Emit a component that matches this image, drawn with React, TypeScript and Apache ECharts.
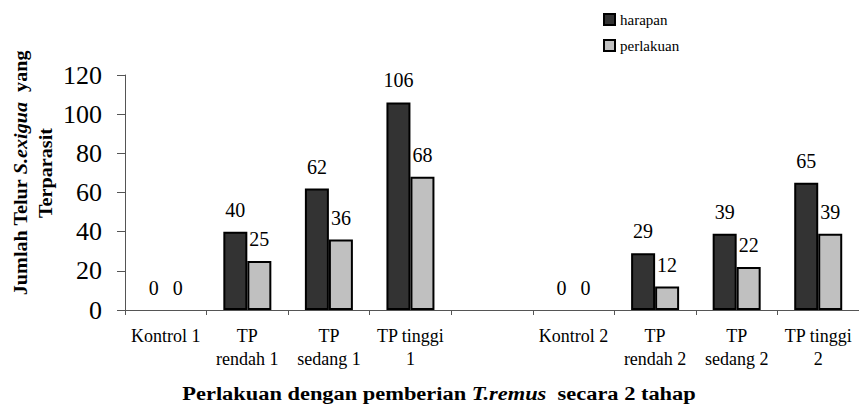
import React, { useEffect, useRef } from "react";
import * as echarts from "echarts";

const categories = [
  "Kontrol 1",
  "TP\nrendah 1",
  "TP\nsedang 1",
  "TP tinggi\n1",
  "",
  "Kontrol 2",
  "TP\nrendah 2",
  "TP\nsedang 2",
  "TP tinggi\n2",
];
const harapan: (number | string)[] = [0, 40, 62, 106, "-", 0, 29, 39, 65];
const perlakuan: (number | string)[] = [0, 25, 36, 68, "-", 0, 12, 22, 39];
const yTicks = { min: 0, max: 120, interval: 20 };

const FONT = "Liberation Serif";

function toItems(arr: (number | string)[]) {
  return arr.map((v) =>
    v === 0
      ? { value: 0, itemStyle: { borderWidth: 0, color: "rgba(0,0,0,0)", borderColor: "rgba(0,0,0,0)" } }
      : v
  );
}

const rs = (size: number, extra: any = {}) => ({
  fontSize: size,
  fontFamily: FONT,
  color: "#000",
  ...extra,
});

export default function App() {
  const ref = useRef<HTMLDivElement>(null);
  useEffect(() => {
    if (!ref.current) return;
    const chart = echarts.init(ref.current, undefined, { renderer: "svg" });
    const labelStyle = {
      show: true,
      position: "top" as const,
      distance: 12,
      fontSize: 20,
      color: "#000",
      fontFamily: FONT,
      formatter: "{a|{c}}",
      rich: { a: rs(20) },
    };
    chart.setOption({
      animation: false,
      backgroundColor: "#fff",
      textStyle: { fontFamily: FONT },
      grid: { left: 125, top: 75, width: 735, height: 235 },
      legend: {
        orient: "vertical",
        left: 603,
        top: 12,
        padding: 0,
        itemWidth: 11,
        itemHeight: 11,
        itemGap: 11,
        icon: "rect",
        itemStyle: { borderColor: "#000", borderWidth: 2 },
        formatter: (name: string) => `{a|${name}}`,
        textStyle: {
          fontSize: 15,
          lineHeight: 14,
          color: "#000",
          fontFamily: FONT,
          rich: { a: rs(15, { lineHeight: 14 }) },
        },
        data: ["harapan", "perlakuan"],
      },
      xAxis: {
        type: "category",
        data: categories,
        axisLine: { lineStyle: { color: "#555", width: 1 } },
        axisTick: { show: true, length: 5, interval: 0, lineStyle: { color: "#555" } },
        axisLabel: {
          interval: 0,
          fontSize: 18,
          lineHeight: 23,
          margin: 14,
          color: "#000",
          fontFamily: FONT,
          formatter: (v: string) =>
            v
              .split("\n")
              .map((l) => (l ? `{a|${l}}` : ""))
              .join("\n"),
          rich: { a: rs(18, { lineHeight: 23 }) },
        },
      },
      yAxis: {
        type: "value",
        min: yTicks.min,
        max: yTicks.max,
        interval: yTicks.interval,
        splitLine: { show: false },
        axisLine: { show: true, lineStyle: { color: "#555", width: 1 } },
        axisTick: { show: true, length: 8, lineStyle: { color: "#555" } },
        axisLabel: {
          fontSize: 26,
          margin: 23,
          color: "#000",
          fontFamily: FONT,
          formatter: (v: number) => `{a|${v}}`,
          rich: { a: rs(26) },
        },
      },
      series: [
        {
          name: "harapan",
          type: "bar",
          data: toItems(harapan),
          barWidth: 24,
          barGap: "0%",
          itemStyle: { color: "#333333", borderColor: "#000", borderWidth: 2 },
          label: labelStyle,
        },
        {
          name: "perlakuan",
          type: "bar",
          data: toItems(perlakuan),
          barWidth: 24,
          barGap: "0%",
          itemStyle: { color: "#c0c0c0", borderColor: "#000", borderWidth: 2 },
          label: labelStyle,
        },
      ],
      graphic: [
        {
          type: "text",
          x: 33,
          y: 173,
          rotation: Math.PI / 2,
          scaleX: 1.12,
          style: {
            text: "{b|Jumlah Telur }{bi|S.exigua}{b|  yang}\n{b|Terparasit}",
            align: "center",
            verticalAlign: "middle",
            fill: "#000",
            rich: {
              b: { fontSize: 18, fontWeight: "bold", fontFamily: FONT, lineHeight: 25, fill: "#000" },
              bi: { fontSize: 18, fontWeight: "bold", fontStyle: "italic", fontFamily: FONT, lineHeight: 25, fill: "#000" },
            },
          },
        },
        {
          type: "text",
          x: 439,
          y: 393,
          scaleX: 1.18,
          style: {
            text: "{b|Perlakuan dengan pemberian }{bi|T.remus}{b|  secara 2 tahap}",
            align: "center",
            verticalAlign: "middle",
            fill: "#000",
            rich: {
              b: { fontSize: 19, fontWeight: "bold", fontFamily: FONT, fill: "#000" },
              bi: { fontSize: 19, fontWeight: "bold", fontStyle: "italic", fontFamily: FONT, fill: "#000" },
            },
          },
        },
      ],
    });
    return () => chart.dispose();
  }, []);
  return (
    <div
      ref={ref}
      style={{ position: "fixed", left: 0, top: 0, width: 859, height: 407 }}
    />
  );
}
